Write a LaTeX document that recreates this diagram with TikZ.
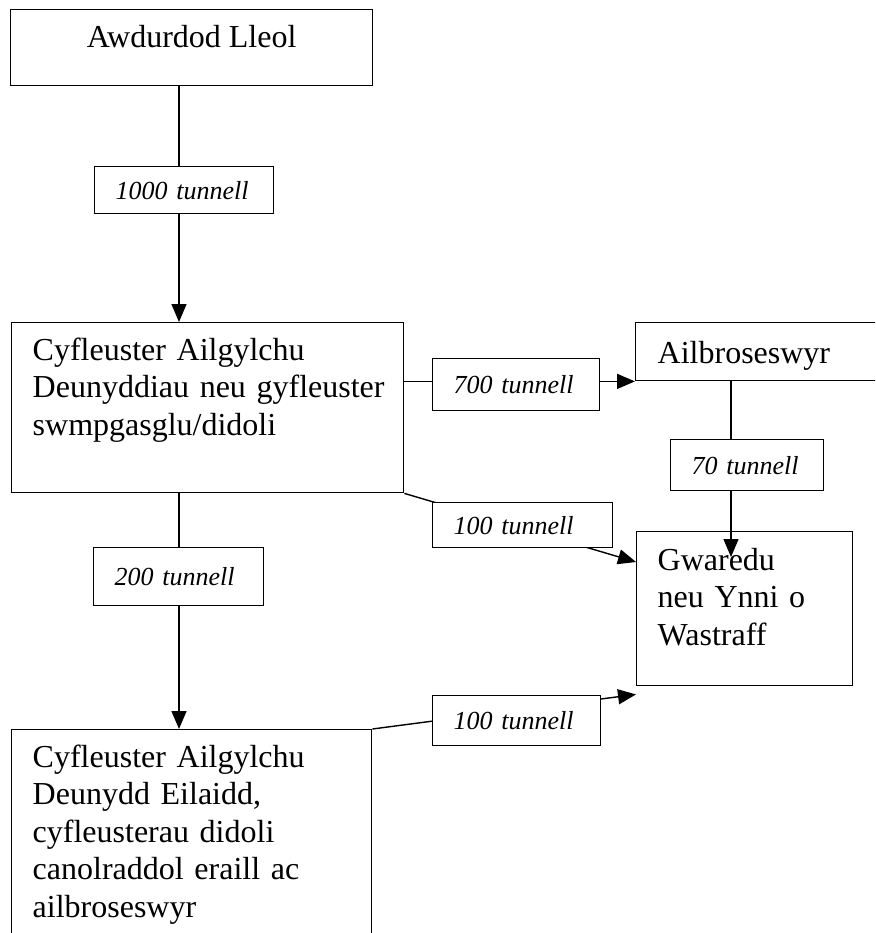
\documentclass[tikz,border=0pt]{standalone}
\usepackage{fontspec}
\setmainfont{Liberation Serif}
\usetikzlibrary{arrows.meta}
\begin{document}
\begin{tikzpicture}[x=1pt,y=-1pt,line width=1.4pt,>={Triangle[length=18pt,width=15pt]},
    frame/.style={draw,anchor=north west,inner sep=0pt},
    words/.style={anchor=base west,text width=400pt,align=left,inner sep=0pt,font=\fontsize{32}{37.5}\selectfont},
    qty/.style={draw,fill=white,anchor=north west,inner xsep=21pt,inner ysep=0pt,align=left,font=\fontsize{26}{30}\selectfont\itshape}]
    \useasboundingbox (0,0) rectangle (875,933);
    \clip (0,0) rectangle (875,933);
    % boxes
    \node[frame,minimum width=362pt,minimum height=76pt] (lleol) at (10,9) {};
    \node[frame,minimum width=392pt,minimum height=170pt] (mrf) at (11,322) {};
    \node[frame,minimum width=270pt,minimum height=58pt] (ailb) at (635,322) {};
    \node[frame,minimum width=216pt,minimum height=154pt] (gwaredu) at (636,531) {};
    \node[frame,minimum width=360pt,minimum height=240pt] (ilr) at (11,729) {};
    \node[anchor=base,inner sep=0pt,font=\fontsize{32}{37.5}\selectfont,yshift=-39pt] (lleoltxt) at (lleol.north) {Awdurdod Lleol};
    \node[words,xshift=21pt,yshift=-38pt] (mrftxt) at (mrf.north west) {Cyfleuster Ailgylchu\\Deunyddiau neu gyfleuster\\swmpgasglu/didoli};
    \node[words,xshift=22pt,yshift=-41pt] (ailbtxt) at (ailb.north west) {Ailbroseswyr};
    \node[words,xshift=21pt,yshift=-39pt] (gwaredutxt) at (gwaredu.north west) {Gwaredu\\neu Ynni o\\Wastraff};
    \node[words,xshift=21pt,yshift=-38pt] (ilrtxt) at (ilr.north west) {Cyfleuster Ailgylchu\\Deunydd Eilaidd,\\cyfleusterau didoli\\canolraddol eraill ac\\ailbroseswyr};
    % flows
    \coordinate (spine) at (179,0);
    \coordinate (drop) at (731,0);
    \draw[->] (lleol.south -| spine) -- (mrf.north -| spine);
    \draw[->] (mrf.south -| spine) -- (ilr.north -| spine);
    \draw[->] (mrf.east |- ailb.south) -- (ailb.south west);
    \draw[->] (ailb.south -| drop) -- ([xshift=95pt,yshift=-26pt]gwaredu.north west);
    \draw[->] (mrf.south east) -- ([yshift=-31pt]gwaredu.north west);
    \draw[->] (ilr.north east) -- ([yshift=-8pt]gwaredu.south west);
    % tonnage labels
    \node[qty,text width=137pt,minimum height=47pt] (t1000) at (94,166) {1000 tunnell};
    \node[qty,text width=125pt,minimum height=52pt] (t700) at (432,358) {700 tunnell};
    \node[qty,text width=111pt,minimum height=51pt] (t70) at (670,439) {70 tunnell};
    \node[qty,text width=138pt,minimum height=45pt] (t100a) at (432,502) {100 tunnell};
    \node[qty,text width=128pt,minimum height=58pt] (t200) at (93,547) {200 tunnell};
    \node[qty,text width=126pt,minimum height=50pt] (t100b) at (432,695) {100 tunnell};
\end{tikzpicture}
\end{document}
